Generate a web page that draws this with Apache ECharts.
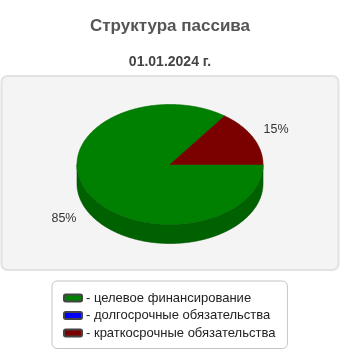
<!DOCTYPE html>
<html><head><meta charset="utf-8">
<script src="https://cdn.jsdelivr.net/npm/echarts@6/dist/echarts.min.js"></script>
<style>html,body{margin:0;padding:0;background:#fff}#c{width:340px;height:350px}</style>
</head><body><div id="c"></div>
<script>
const titleText = 'Структура пассива';
const subtitleText = '01.01.2024 г.';
const categories = ['целевое финансирование', 'долгосрочные обязательства', 'краткосрочные обязательства'];
const values = [85, 0, 15];
const valueLabels = ['85%', '', '15%'];
const topColors = ['#008000', '#0000ff', '#7b0000'];
const sideColors = ['#006100', '#0000b0', '#5a0000'];

const CX = 170, CY = 164.5, RX = 93, RY = 60, DEPTH = 19;
const FONT = 'Liberation Sans, Arial, sans-serif';
const total = values.reduce((a, b) => a + b, 0);

function pt(t, dy) { return [CX + RX * Math.cos(t), CY - RY * Math.sin(t) + (dy || 0)]; }
function arcPts(a, b, dy) {
  const pts = []; const n = Math.max(2, Math.ceil(Math.abs(b - a) / (Math.PI / 180)));
  for (let i = 0; i <= n; i++) pts.push(pt(a + (b - a) * i / n, dy));
  return pts;
}

function makeRender(idx) {
  return function () {
    const v = values[idx];
    if (!v) return { type: 'group', children: [] };
    let before = 0; for (let i = 0; i < idx; i++) before += values[i];
    const t0 = -before / total * 2 * Math.PI;
    const t1 = t0 - v / total * 2 * Math.PI;
    const children = [];
    for (let k = -2; k <= 1; k++) {
      const lo = Math.max(t1, Math.PI + 2 * Math.PI * k), hi = Math.min(t0, 2 * Math.PI + 2 * Math.PI * k);
      if (hi - lo > 1e-6) {
        const top = arcPts(lo, hi, 0), bot = arcPts(hi, lo, DEPTH);
        children.push({ type: 'polygon', z2: 1, shape: { points: top.concat(bot) },
          style: { fill: sideColors[idx], stroke: '#005000', lineWidth: 0.6 } });
      }
    }
    const topPts = [[CX, CY]].concat(arcPts(t0, t1, 0));
    children.push({ type: 'polygon', z2: 10, shape: { points: topPts },
      style: { fill: topColors[idx], stroke: idx === 0 ? '#006a00' : '#6a0000', lineWidth: 0.6 } });
    const tm = (t0 + t1) / 2;
    const s = Math.sin(tm);
    const lx = CX + RX * 1.28 * Math.cos(tm);
    const ly = CY - RY * 1.3 * s + (s < 0 ? DEPTH : 0);
    children.push({ type: 'text', z2: 20, style: { text: valueLabels[idx], x: lx, y: ly,
      align: 'center', verticalAlign: 'middle', font: '12.5px ' + FONT, fill: '#333' } });
    return { type: 'group', children };
  };
}

const chart = echarts.init(document.getElementById('c'), null, { renderer: 'canvas' });
chart.setOption({
  animation: false,
  title: [
    { text: titleText, left: 'center', top: 13, textStyle: { fontFamily: FONT, fontSize: 17, fontWeight: 'bold', color: '#555' } },
    { text: subtitleText, left: 'center', top: 50, textStyle: { fontFamily: FONT, fontSize: 14, fontWeight: 'bold', color: '#444' } }
  ],
  graphic: [{ type: 'rect', z: -10, shape: { x: 1.5, y: 76, width: 337, height: 194, r: 6 },
    style: { fill: '#f4f4f4', stroke: '#e2e2e2', lineWidth: 2 } }],
  legend: {
    orient: 'vertical', left: 52, top: 281,
    data: categories,
    formatter: n => '- ' + n,
    icon: 'roundRect', itemWidth: 18, itemHeight: 7, itemGap: 4.5,
    padding: [10.5, 12, 9, 11],
    backgroundColor: '#fff', borderColor: '#c4c4c4', borderWidth: 1, borderRadius: 5,
    textStyle: { fontFamily: FONT, fontSize: 13, color: '#222', padding: [0, 0, 0, -1] }
  },
  series: categories.map((name, i) => ({
    type: 'custom', name, coordinateSystem: 'none',
    itemStyle: { color: topColors[i], borderColor: '#444', borderWidth: 0.5 },
    data: [[values[i]]],
    renderItem: makeRender(i)
  }))
});
</script></body></html>
